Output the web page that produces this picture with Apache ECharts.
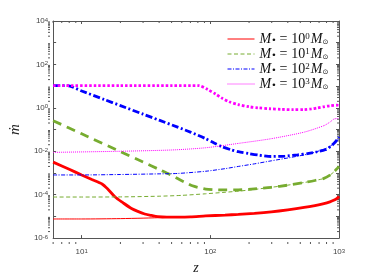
<!DOCTYPE html>
<html><head><meta charset="utf-8">
<script src="https://cdn.jsdelivr.net/npm/echarts@6/dist/echarts.min.js"></script>
<style>html,body{margin:0;padding:0;background:#fff}#c{width:374px;height:280px}</style>
</head><body><div id="c"></div>
<script>
// ---- tick labels ----
const xTickExponents = [1, 2, 3];
const yTickExponents = [-6, -4, -2, 0, 2, 4];
// ---- legend / categories ----
const massExponents = ['0', '1', '2', '3'];
const seriesNames = ['M0', 'M1', 'M2', 'M3'];
const colors = ['#ff0000', '#77ac30', '#0000ff', '#ff00ff'];

// ---- M = 10^0 ----
const z_M0_thick = [6, 8, 10, 12, 14.4, 16, 18.2, 21, 24.4, 27, 30.9, 35, 39, 46, 55.7, 70, 92, 130, 165, 220, 298, 400, 536, 650, 763, 850, 909, 960, 1000];
const mdot_M0_thick = [3.16e-3, 1.48e-3, 8.1e-4, 5.0e-4, 3.1e-4, 1.78e-4, 7.8e-5, 4.2e-5, 2.3e-5, 1.74e-5, 1.29e-5, 1.10e-5, 9.8e-6, 9.3e-6, 9.3e-6, 9.5e-6, 1.05e-5, 1.15e-5, 1.23e-5, 1.38e-5, 1.62e-5, 2.0e-5, 2.57e-5, 3.16e-5, 3.9e-5, 4.7e-5, 5.5e-5, 6.6e-5, 8.3e-5];
const z_M0_thin = [6, 10, 20, 30, 45, 56, 70, 92, 130, 165, 220, 298, 400, 536, 650, 763, 850, 909, 960, 1000];
const mdot_M0_thin = [7.6e-6, 7.6e-6, 7.9e-6, 8.3e-6, 8.9e-6, 9.3e-6, 9.5e-6, 1.05e-5, 1.15e-5, 1.23e-5, 1.38e-5, 1.62e-5, 2.0e-5, 2.57e-5, 3.16e-5, 3.9e-5, 4.7e-5, 5.5e-5, 6.6e-5, 8.3e-5];

// ---- M = 10^1 ----
const z_M1_thick = [6, 10, 20, 30, 40, 49.4, 57, 65, 72.5, 82, 92, 107, 123, 165, 220, 298, 400, 536, 650, 763, 850, 909, 960, 1000];
const mdot_M1_thick = [0.257, 0.0637, 9.6e-3, 3.18e-3, 1.45e-3, 8.1e-4, 5.1e-4, 3.5e-4, 2.57e-4, 2.1e-4, 1.82e-4, 1.70e-4, 1.66e-4, 1.66e-4, 1.86e-4, 2.19e-4, 2.75e-4, 3.63e-4, 4.5e-4, 5.6e-4, 7.9e-4, 1.10e-3, 1.51e-3, 2.0e-3];
const z_M1_thin = [6, 10, 20, 40, 60, 92, 130, 165, 220, 298, 400, 536, 650, 763, 850, 909, 960, 1000];
const mdot_M1_thin = [7.8e-5, 7.8e-5, 7.9e-5, 8.5e-5, 9.3e-5, 1.10e-4, 1.29e-4, 1.45e-4, 1.74e-4, 2.19e-4, 2.75e-4, 3.63e-4, 4.5e-4, 5.6e-4, 7.9e-4, 1.10e-3, 1.51e-3, 2.0e-3];

// ---- M = 10^2 ----
const z_M2_thick = [6, 7, 7.76, 10, 15, 20, 30, 40, 55.7, 70, 92, 107, 123, 145, 165, 200, 240, 298, 380, 477, 580, 677, 780, 857, 920, 970, 1000];
const mdot_M2_thick = [10.5, 10.5, 10.5, 5.96, 2.41, 1.27, 0.514, 0.270, 0.129, 0.076, 0.038, 0.024, 0.0162, 0.0117, 9.5e-3, 7.8e-3, 6.6e-3, 5.75e-3, 6.0e-3, 6.8e-3, 7.9e-3, 9.5e-3, 0.0117, 0.0162, 0.024, 0.035, 0.046];
const z_M2_thin = [6, 10, 20, 40, 55.7, 92, 130, 165, 220, 298, 400, 536, 650, 763, 850, 909, 960, 1000];
const mdot_M2_thin = [8.1e-4, 8.1e-4, 8.5e-4, 9.1e-4, 9.5e-4, 1.2e-3, 1.58e-3, 2.0e-3, 2.63e-3, 3.63e-3, 4.9e-3, 6.8e-3, 9.1e-3, 0.0123, 0.0166, 0.0229, 0.030, 0.038];

// ---- M = 10^3 ----
const z_M3_thick = [6, 20, 50, 81.6, 95, 110, 123, 140, 165, 200, 235, 290, 355, 440, 535, 610, 677, 760, 850, 966, 1000];
const mdot_M3_thick = [10.5, 10.5, 10.5, 10.5, 7.1, 4.3, 2.8, 1.9, 1.41, 1.12, 1.0, 0.91, 0.85, 0.82, 0.83, 0.89, 0.98, 1.12, 1.24, 1.32, 1.29];
const z_M3_thin = [6, 20, 51, 92, 165, 298, 536, 763, 850, 909, 960, 1000];
const mdot_M3_thin = [8.9e-3, 0.010, 0.0115, 0.0145, 0.023, 0.038, 0.076, 0.151, 0.22, 0.30, 0.32, 0.32];

const thickZ = [z_M0_thick, z_M1_thick, z_M2_thick, z_M3_thick];
const thickV = [mdot_M0_thick, mdot_M1_thick, mdot_M2_thick, mdot_M3_thick];
const thinZ = [z_M0_thin, z_M1_thin, z_M2_thin, z_M3_thin];
const thinV = [mdot_M0_thin, mdot_M1_thin, mdot_M2_thin, mdot_M3_thin];

const thickDash = ['solid', [9, 6], [7, 2.5, 2, 2.5], [2.5, 2]];
const thinDash = ['solid', [4, 2.5], [4, 1.5, 1, 1.5], [1, 1]];

function pairs(zs, vs) { return zs.map((z, i) => [z, vs[i]]); }

const series = [];
for (let i = 0; i < 4; i++) {
  series.push({
    type: 'line', name: seriesNames[i] + '_thick', data: pairs(thickZ[i], thickV[i]),
    symbol: 'none', showSymbol: false, smooth: 0.25, z: 2,
    lineStyle: { color: colors[i], width: 2.8, type: thickDash[i], cap: 'butt' },
    itemStyle: { color: colors[i] }
  });
}
for (let i = 0; i < 4; i++) {
  series.push({
    type: 'line', name: seriesNames[i], data: pairs(thinZ[i], thinV[i]),
    symbol: 'none', showSymbol: false, smooth: 0.25, z: 3,
    lineStyle: { color: colors[i], width: 1, type: thinDash[i] },
    itemStyle: { color: colors[i] }
  });
}

const axisCol = '#555';
const labelCol = '#444';
function isDecade(v) { const l = Math.log10(v); return Math.abs(l - Math.round(l)) < 1e-6; }
const supRich = { e: { fontSize: 6, verticalAlign: 'top', lineHeight: 8, fontFamily: 'Liberation Sans', color: labelCol } };

const chart = echarts.init(document.getElementById('c'), null, { renderer: 'canvas' });
const GRID = { left: 48, right: 35, top: 21, bottom: 36 };
chart.setOption({
  animation: false,
  backgroundColor: '#fff',
  grid: GRID,
  legend: {
    data: seriesNames, orient: 'vertical', left: 222, top: 27,
    itemWidth: 27, itemHeight: 8, itemGap: 1, padding: 5,
    itemStyle: { color: 'rgba(0,0,0,0)', borderWidth: 0, opacity: 0 },
    lineStyle: { width: 1 },
    formatter: function (name) {
      const e = massExponents[seriesNames.indexOf(name)];
      return '{m|M}{s|\u2022}{eq|=}{n|10}{p|' + e + '}{m|M}{o|\u2299}';
    },
    textStyle: {
      color: '#111',
      rich: {
        m: { fontFamily: 'Liberation Serif', fontStyle: 'italic', fontSize: 14, lineHeight: 13, verticalAlign: 'middle' },
        s: { fontFamily: 'DejaVu Sans', fontSize: 9, verticalAlign: 'bottom', lineHeight: 10 },
        o: { fontFamily: 'DejaVu Sans', fontSize: 7, verticalAlign: 'bottom', lineHeight: 9 },
        eq: { fontFamily: 'Liberation Serif', fontSize: 14, lineHeight: 13, padding: [0, 4, 0, 3] },
        n: { fontFamily: 'Liberation Serif', fontSize: 14, lineHeight: 13 },
        p: { fontFamily: 'Liberation Serif', fontSize: 9, verticalAlign: 'top', lineHeight: 9, padding: [0, 1, 0, 0] }
      }
    }
  },
  xAxis: [{
    type: 'log', min: 6, max: 1000, logBase: 10,
    name: 'z', nameLocation: 'middle', nameGap: 17,
    nameTextStyle: { fontFamily: 'Liberation Serif', fontStyle: 'italic', fontSize: 14, color: '#222' },
    axisLine: { show: true, lineStyle: { color: axisCol, width: 1 } },
    axisTick: { show: true, inside: true, length: 3, lineStyle: { color: axisCol } },
    splitLine: { show: false },
    axisLabel: {
      color: labelCol, fontSize: 8, fontFamily: 'Liberation Sans', margin: 10, rich: supRich,
      formatter: function (v) {
        if (!isDecade(v)) return '';
        const e = Math.round(Math.log10(v));
        return xTickExponents.indexOf(e) >= 0 ? '10{e|' + e + '}' : '';
      }
    }
  }, {
    type: 'log', min: 6, max: 1000, logBase: 10, position: 'top',
    axisLine: { show: true, lineStyle: { color: axisCol, width: 1 } },
    axisTick: { show: true, inside: true, length: 3, lineStyle: { color: axisCol } },
    axisLabel: { show: false }, splitLine: { show: false }
  }],
  yAxis: [{
    type: 'log', min: 1e-6, max: 1e4, logBase: 10, interval: 1,
    name: '\u1E41', nameLocation: 'middle', nameGap: 30, nameRotate: 90,
    nameTextStyle: { fontFamily: 'Liberation Serif', fontStyle: 'italic', fontSize: 15, color: '#222' },
    axisLine: { show: true, lineStyle: { color: axisCol, width: 1 } },
    axisTick: { show: true, inside: true, length: 3, lineStyle: { color: axisCol } },
    splitLine: { show: false },
    axisLabel: {
      color: labelCol, fontSize: 8, fontFamily: 'Liberation Sans', margin: 5, align: 'right', rich: supRich,
      formatter: function (v) {
        if (!isDecade(v)) return '';
        const e = Math.round(Math.log10(v));
        return yTickExponents.indexOf(e) >= 0 ? '10{e|' + e + '}' : '';
      }
    }
  }, {
    type: 'log', min: 1e-6, max: 1e4, logBase: 10, interval: 1, position: 'right',
    axisLine: { show: true, lineStyle: { color: axisCol, width: 1 } },
    axisTick: { show: true, inside: true, length: 3, lineStyle: { color: axisCol } },
    axisLabel: { show: false }, splitLine: { show: false }
  }],
  series: series
});

// minor (log) ticks on all four sides
const gl = GRID.left, gr = 374 - GRID.right, gt = GRID.top, gb = 280 - GRID.bottom;
const minor = [];
for (let k = 0; k <= 2; k++) for (let m = 2; m <= 9; m++) {
  const v = m * Math.pow(10, k);
  if (v < 6 || v > 1000) continue;
  const px = chart.convertToPixel({ xAxisIndex: 0 }, v);
  minor.push({ type: 'line', shape: { x1: px, y1: gb, x2: px, y2: gb - 2 }, style: { stroke: axisCol, lineWidth: 1 }, silent: true });
  minor.push({ type: 'line', shape: { x1: px, y1: gt, x2: px, y2: gt + 2 }, style: { stroke: axisCol, lineWidth: 1 }, silent: true });
}
for (let k = -6; k <= 3; k++) for (let m = 2; m <= 9; m++) {
  const v = m * Math.pow(10, k);
  const py = chart.convertToPixel({ yAxisIndex: 0 }, v);
  minor.push({ type: 'line', shape: { x1: gl, y1: py, x2: gl + 2, y2: py }, style: { stroke: axisCol, lineWidth: 1 }, silent: true });
  minor.push({ type: 'line', shape: { x1: gr, y1: py, x2: gr - 2, y2: py }, style: { stroke: axisCol, lineWidth: 1 }, silent: true });
}
chart.setOption({ graphic: minor });
</script>
</body></html>
